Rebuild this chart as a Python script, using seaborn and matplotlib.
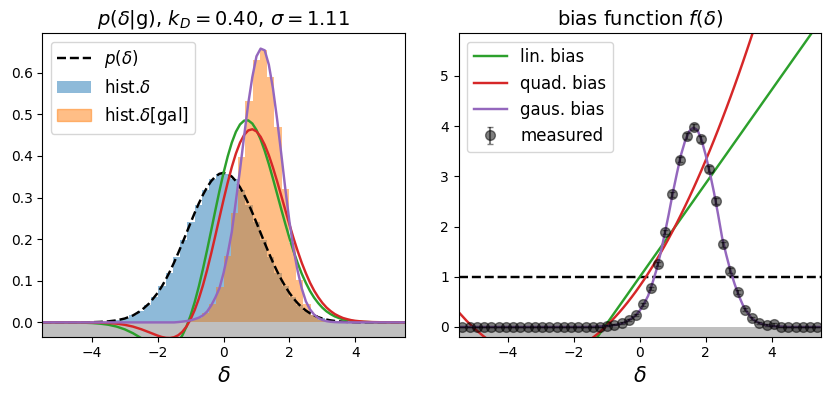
import numpy as np
import matplotlib
matplotlib.use("Agg")
import matplotlib.pyplot as plt
import seaborn as sns
from matplotlib.lines import Line2D
from matplotlib.patches import Patch

# histogram bins (shared by both histograms and the measured bias)
bin_edges = [-5.5, -5.28, -5.06, -4.84, -4.62, -4.40, -4.18, -3.96, -3.74, -3.52,
             -3.30, -3.08, -2.86, -2.64, -2.42, -2.20, -1.98, -1.76, -1.54, -1.32,
             -1.10, -0.88, -0.66, -0.44, -0.22, 0.0, 0.22, 0.44, 0.66, 0.88,
             1.10, 1.32, 1.54, 1.76, 1.98, 2.20, 2.42, 2.64, 2.86, 3.08,
             3.30, 3.52, 3.74, 3.96, 4.18, 4.40, 4.62, 4.84, 5.06, 5.28, 5.5]

hist_all = [0, 0, 0, 0, 0.0001, 0.0002, 0.0004, 0.0009, 0.0017, 0.0032,
            0.0058, 0.0100, 0.0167, 0.0267, 0.0412, 0.0611, 0.0869, 0.1191, 0.1567, 0.1984,
            0.2415, 0.2826, 0.3179, 0.3439, 0.3576, 0.3576, 0.3439, 0.3179, 0.2826, 0.2415,
            0.1984, 0.1567, 0.1191, 0.0869, 0.0611, 0.0412, 0.0267, 0.0167, 0.0100, 0.0058,
            0.0032, 0.0017, 0.0009, 0.0004, 0.0002, 0.0001, 0, 0, 0, 0]

hist_gal = [0, 0, 0, 0, 0, 0, 0, 0, 0, 0,
            0, 0, 0, 0, 0, 0, 0, 0, 0, 0,
            0.0048, 0.0112, 0.0221, 0.0442, 0.0849, 0.1592, 0.2620, 0.3964, 0.5313, 0.6309,
            0.6538, 0.5893, 0.4702, 0.3216, 0.1899, 0.1023, 0.0436, 0.0185, 0.0068, 0.0020,
            0.0005, 0, 0, 0, 0, 0, 0, 0, 0, 0]

measured = [0, 0, 0, 0, 0, 0, 0, 0, 0, 0,
            0, 0, 0, 0, 0, 0, 0, 0, 0, 0,
            0.02, 0.04, 0.07, 0.13, 0.24, 0.45, 0.77, 1.26, 1.90, 2.64,
            3.33, 3.80, 3.99, 3.74, 3.14, 2.51, 1.65, 1.12, 0.69, 0.34,
            0.17, 0.07, 0.04, 0.05, 0, 0, 0, 0, 0, 0]

measured_err = [0, 0, 0, 0, 0, 0, 0, 0, 0, 0,
                0, 0, 0, 0, 0, 0, 0, 0, 0, 0,
                0.01, 0.01, 0.02, 0.02, 0.02, 0.03, 0.03, 0.04, 0.04, 0.05,
                0.05, 0.06, 0.06, 0.06, 0.06, 0.06, 0.05, 0.05, 0.04, 0.03,
                0.03, 0.02, 0.02, 0.03, 0, 0, 0, 0, 0, 0]

# smooth curves, read on a grid (0.25 in the tails, 0.125 in the core)
delta_grid = [-5.5, -5.25, -5.0, -4.75, -4.5, -4.25, -4.0, -3.75, -3.5, -3.25,
              -3.0, -2.75, -2.5, -2.25, -2.0,
              -1.875, -1.75, -1.625, -1.5, -1.375, -1.25, -1.125, -1.0,
              -0.875, -0.75, -0.625, -0.5, -0.375, -0.25, -0.125, 0.0,
              0.125, 0.25, 0.375, 0.5, 0.625, 0.75, 0.875, 1.0,
              1.125, 1.25, 1.375, 1.5, 1.625, 1.75, 1.875, 2.0,
              2.125, 2.25, 2.375, 2.5, 2.625, 2.75, 2.875, 3.0,
              3.125, 3.25, 3.375, 3.5, 3.625, 3.75, 3.875, 4.0,
              4.25, 4.5, 4.75, 5.0, 5.25, 5.5]

p_delta = [0, 0, 0, 0, 0.0001, 0.0002, 0.0005, 0.0012, 0.0025, 0.0049,
           0.0093, 0.0167, 0.0285, 0.0461, 0.0709,
           0.0863, 0.1037, 0.1231, 0.1442, 0.1669, 0.1906, 0.2150, 0.2395,
           0.2634, 0.2860, 0.3067, 0.3247, 0.3395, 0.3504, 0.3571, 0.3594,
           0.3571, 0.3504, 0.3395, 0.3247, 0.3067, 0.2860, 0.2634, 0.2395,
           0.2150, 0.1906, 0.1669, 0.1442, 0.1231, 0.1037, 0.0863, 0.0709,
           0.0575, 0.0461, 0.0364, 0.0285, 0.0219, 0.0167, 0.0126, 0.0093,
           0.0068, 0.0049, 0.0035, 0.0025, 0.0017, 0.0012, 0.0008, 0.0005,
           0.0002, 0.0001, 0, 0, 0, 0]

lin_pdf = [0, 0, 0, -0.0001, -0.0003, -0.0007, -0.0015, -0.0030, -0.0056, -0.0100,
           -0.0167, -0.0260, -0.0378, -0.0504, -0.0610,
           -0.0642, -0.0651, -0.0629, -0.0570, -0.0466, -0.0310, -0.0099, 0.0168,
           0.0490, 0.0865, 0.1285, 0.1737, 0.2210, 0.2689, 0.3157, 0.3594,
           0.3985, 0.4319, 0.4580, 0.4757, 0.4849, 0.4855, 0.4778, 0.4622,
           0.4399, 0.4122, 0.3804, 0.3454, 0.3091, 0.2725, 0.2368, 0.2028,
           0.1711, 0.1426, 0.1168, 0.0948, 0.0754, 0.0594, 0.0463, 0.0353,
           0.0266, 0.0199, 0.0145, 0.0106, 0.0074, 0.0053, 0.0037, 0.0025,
           0.0012, 0.0005, 0.0002, 0.0001, 0, 0]

quad_pdf = [0, 0, 0, 0, 0, -0.0001, -0.0003, -0.0007, -0.0015, -0.0030,
            -0.0058, -0.0101, -0.0164, -0.0240, -0.0318,
            -0.0350, -0.0371, -0.0375, -0.0356, -0.0309, -0.0225, -0.0098, 0.0074,
            0.0298, 0.0572, 0.0892, 0.1257, 0.1657, 0.2081, 0.2515, 0.2947,
            0.3357, 0.3732, 0.4057, 0.4319, 0.4505, 0.4613, 0.4642, 0.4589,
            0.4461, 0.4268, 0.4017, 0.3720, 0.3395, 0.3050, 0.2700, 0.2355,
            0.2023, 0.1715, 0.1429, 0.1180, 0.0954, 0.0764, 0.0605, 0.0469,
            0.0358, 0.0272, 0.0201, 0.0150, 0.0106, 0.0078, 0.0054, 0.0038,
            0.0018, 0.0008, 0.0004, 0.0001, 0, 0]

gaus_pdf = [0, 0, 0, 0, 0, 0, 0, 0, 0, 0,
            0, 0, 0, 0, 0,
            0, 0, 0, 0, 0.0008, 0.0019, 0.0032, 0.0048,
            0.0079, 0.0114, 0.0169, 0.0260, 0.0407, 0.0596, 0.0821, 0.1186,
            0.1643, 0.2172, 0.2920, 0.3669, 0.4478, 0.5262, 0.5900, 0.6395,
            0.6579, 0.6538, 0.6192, 0.5624, 0.4887, 0.4065, 0.3210, 0.2425,
            0.1765, 0.1235, 0.0815, 0.0504, 0.0313, 0.0187, 0.0108, 0.0059,
            0.0030, 0.0015, 0.0007, 0.0003, 0.0001, 0, 0, 0,
            0, 0, 0, 0, 0, 0]

lin_bias = [-4.115, -3.883, -3.650, -3.418, -3.185, -2.953, -2.720, -2.488, -2.255, -2.023,
            -1.790, -1.558, -1.325, -1.093, -0.860,
            -0.744, -0.628, -0.511, -0.395, -0.279, -0.163, -0.046, 0.070,
            0.186, 0.303, 0.419, 0.535, 0.651, 0.768, 0.884, 1.000,
            1.116, 1.233, 1.349, 1.465, 1.581, 1.698, 1.814, 1.930,
            2.046, 2.163, 2.279, 2.395, 2.511, 2.628, 2.744, 2.860,
            2.976, 3.093, 3.209, 3.325, 3.441, 3.558, 3.674, 3.790,
            3.906, 4.023, 4.139, 4.255, 4.371, 4.488, 4.604, 4.720,
            4.953, 5.185, 5.418, 5.650, 5.883, 6.115]

quad_bias = [0.295, 0.116, -0.043, -0.182, -0.303, -0.404, -0.486, -0.549, -0.592, -0.617,
             -0.622, -0.607, -0.574, -0.521, -0.449,
             -0.406, -0.358, -0.305, -0.247, -0.185, -0.118, -0.046, 0.031,
             0.113, 0.200, 0.291, 0.387, 0.488, 0.594, 0.704, 0.820,
             0.940, 1.065, 1.195, 1.330, 1.469, 1.613, 1.762, 1.916,
             2.075, 2.239, 2.407, 2.580, 2.758, 2.941, 3.128, 3.321,
             3.518, 3.720, 3.927, 4.139, 4.355, 4.576, 4.802, 5.033,
             5.269, 5.510, 5.755, 6.005, 6.260, 6.520, 6.784, 7.054,
             7.607, 8.179, 8.771, 9.382, 10.012, 10.662]

gaus_bias = [0, 0, 0, 0, 0, 0, 0, 0, 0, 0,
             0, 0, 0, 0, 0,
             0, 0, 0, 0, 0.005, 0.01, 0.015, 0.02,
             0.03, 0.04, 0.055, 0.08, 0.12, 0.17, 0.23, 0.33,
             0.46, 0.62, 0.86, 1.13, 1.46, 1.84, 2.24, 2.67,
             3.06, 3.43, 3.71, 3.90, 3.97, 3.92, 3.72, 3.42,
             3.07, 2.68, 2.24, 1.77, 1.43, 1.12, 0.86, 0.63,
             0.44, 0.30, 0.19, 0.12, 0.08, 0.05, 0.03, 0.02,
             0.01, 0, 0, 0, 0, 0]

bin_centers = [(a + b) / 2 for a, b in zip(bin_edges[:-1], bin_edges[1:])]
LW = 1.75

fig, axes = plt.subplots(1, 2, figsize=(8.31, 3.95), dpi=100)
fig.subplots_adjust(left=0.051, right=0.988, bottom=0.148, top=0.916, wspace=0.149)

# left: distributions
ax = axes[0]
ax.axhspan(-1, 0, color="gray", alpha=0.5, lw=0, zorder=0.5)
sns.histplot(x=bin_centers, weights=hist_all, bins=bin_edges, stat="count",
             color="C0", alpha=0.5, linewidth=0, ax=ax)
sns.histplot(x=bin_centers, weights=hist_gal, bins=bin_edges, stat="count",
             color="C1", alpha=0.5, linewidth=0, ax=ax)
sns.lineplot(x=delta_grid, y=p_delta, color="k", linestyle="--", lw=LW, ax=ax)
sns.lineplot(x=delta_grid, y=lin_pdf, color="C2", lw=LW, ax=ax)
sns.lineplot(x=delta_grid, y=quad_pdf, color="C3", lw=LW, ax=ax)
sns.lineplot(x=delta_grid, y=gaus_pdf, color="C4", lw=LW, ax=ax)
ax.set_xlim(-5.5, 5.5)
ax.set_ylim(-0.034, 0.695)
ax.set_ylabel("")
ax.set_xlabel(r"$\delta$", fontsize=15)
ax.set_title(r"$p(\delta|\mathrm{g})$, $k_D=0.40$, $\sigma=1.11$", fontsize=14)
handles = [Line2D([], [], color="k", ls="--", lw=LW),
           Patch(facecolor="C0", alpha=0.5),
           Patch(facecolor="C1", edgecolor="C1", alpha=0.5)]
ax.legend(handles, [r"$p(\delta)$", r"hist.$\delta$", r"hist.$\delta$[gal]"],
          loc="upper left", fontsize=12)

# right: bias functions
ax = axes[1]
ax.axhspan(-1, 0, color="gray", alpha=0.5, lw=0, zorder=0.5)
ax.axhline(1, color="k", ls="--", lw=LW)
sns.lineplot(x=delta_grid, y=lin_bias, color="C2", lw=LW, ax=ax, label="lin. bias")
sns.lineplot(x=delta_grid, y=quad_bias, color="C3", lw=LW, ax=ax, label="quad. bias")
sns.lineplot(x=delta_grid, y=gaus_bias, color="C4", lw=LW, ax=ax, label="gaus. bias")
ax.errorbar(bin_centers, measured, yerr=measured_err, fmt="o", color="k",
            alpha=0.5, ms=7, capsize=2, label="measured")
ax.set_xlim(-5.5, 5.5)
ax.set_ylim(-0.19, 5.85)
ax.set_ylabel("")
ax.set_xlabel(r"$\delta$", fontsize=15)
ax.set_title(r"bias function $f(\delta)$", fontsize=14)
ax.legend(loc="upper left", fontsize=12)

plt.savefig("out.png", dpi=100)
plt.close()
